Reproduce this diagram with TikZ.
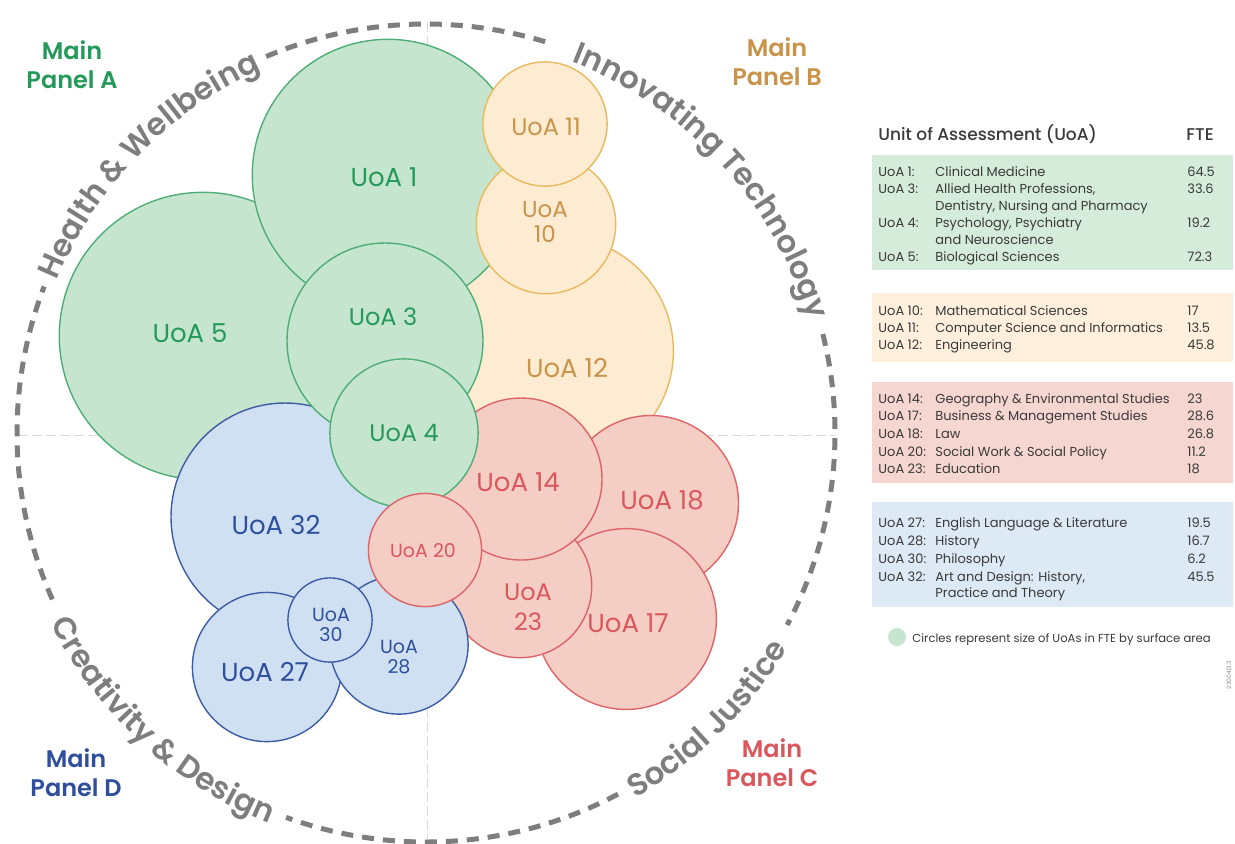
\documentclass[tikz,border=0pt]{standalone}
\usepackage{fontspec}
\setmainfont{Poppins}
\newfontfamily\medfont{Poppins Medium}
\newfontfamily\semifont{Poppins SemiBold}
\usetikzlibrary{decorations.text, positioning}

\definecolor{greenfill}{HTML}{C6E5CF}
\definecolor{greenline}{HTML}{4FAE76}
\definecolor{greentext}{HTML}{23995A}
\definecolor{yellowfill}{HTML}{FDEBD2}
\definecolor{yellowline}{HTML}{E9B95E}
\definecolor{yellowtext}{HTML}{C9944A}
\definecolor{redfill}{HTML}{F4CDC5}
\definecolor{redline}{HTML}{DD6468}
\definecolor{redtext}{HTML}{D9575D}
\definecolor{bluefill}{HTML}{CFE0F3}
\definecolor{blueline}{HTML}{3E5CA4}
\definecolor{bluetext}{HTML}{2F4F9C}
\definecolor{ringgrey}{HTML}{7E7E7E}
\definecolor{legendgrey}{HTML}{3A3A3A}
\definecolor{boxgreen}{HTML}{D5ECDB}
\definecolor{boxyellow}{HTML}{FEF0DD}
\definecolor{boxred}{HTML}{F6D6D0}
\definecolor{boxblue}{HTML}{DEE9F6}

\newcommand{\themefont}{\semifont\fontsize{15.5}{18}\selectfont}

\tikzset{
  unit/.style={circle, inner sep=0pt, outer sep=0pt, line width=0.7pt},
  panelA/.style={unit, fill=greenfill, draw=greenline},
  panelB/.style={unit, fill=yellowfill, draw=yellowline},
  panelC/.style={unit, fill=redfill, draw=redline},
  panelD/.style={unit, fill=bluefill, draw=blueline},
  unitlabel/.style={align=center, inner sep=0pt, font=\fontsize{13}{15}\selectfont},
  mainlabel/.style={align=center, inner sep=0pt, font=\semifont\fontsize{12}{14.5}\selectfont},
  ring/.style={draw=ringgrey, line width=2.5pt, dash pattern=on 6pt off 4.5pt},
  crossline/.style={draw=black!14, line width=0.5pt, dash pattern=on 5pt off 2pt},
  theme/.style={decorate, decoration={text along path, text align=center, text color=ringgrey}},
  legendtext/.style={anchor=mid west, inner sep=0pt, text=legendgrey, font=\fontsize{6.5}{8}\selectfont},
}

\begin{document}
\begin{tikzpicture}[x=0.5pt, y=0.5pt]
    \useasboundingbox (0,0) rectangle (1235,-843);
    \coordinate (o) at (426,-433);

    % quadrant guides
    \draw[crossline] (18,-435) -- (836,-435);
    \draw[crossline] (427,-22) -- (427,-843);

    % dashed ring between the theme names
    \draw[ring] (o) ++(113:409) arc[start angle=113, end angle=72, radius=409];
    \draw[ring] (o) ++(14:409) arc[start angle=14, end angle=-28, radius=409];
    \draw[ring] (o) ++(-62:409) arc[start angle=-62, end angle=-110, radius=409];
    \draw[ring] (o) ++(204:409) arc[start angle=204, end angle=159, radius=409];

    % theme names along the ring
    \path[theme, decoration={text={|\themefont|Health {\&} Wellbeing}}]
        (o) ++(171:399) arc[start angle=171, end angle=101, radius=399];
    \path[theme, decoration={text={|\themefont|Innovating Technology}}]
        (o) ++(79:399) arc[start angle=79, end angle=6, radius=399];
    \path[theme, decoration={text={|\themefont|Social Justice}}]
        (o) ++(-80:421) arc[start angle=-80, end angle=-11, radius=421];
    \path[theme, decoration={text={|\themefont|Creativity {\&} Design}}]
        (o) ++(192:421) arc[start angle=192, end angle=263, radius=421];

    % units of assessment, back to front
    \node[panelB, minimum size=114.4pt] (c12) at (559,-351) {};
    \node[panelA, minimum size=143.7pt] (c5) at (203,-336) {};
    \node[panelA, minimum size=135.7pt] (c1) at (388,-175) {};
    \node[panelB, minimum size=69.7pt] (c10) at (546,-224) {};
    \node[panelB, minimum size=62.1pt] (c11) at (545,-124) {};
    \node[panelC, minimum size=87.5pt] (c18) at (651,-503) {};
    \node[panelC, minimum size=90.4pt] (c17) at (626,-619) {};
    \node[panelC, minimum size=71.7pt] (c23) at (520,-586) {};
    \node[panelC, minimum size=81.0pt] (c14) at (521,-479) {};
    \node[panelD, minimum size=114.0pt] (c32) at (285,-517) {};
    \node[panelA, minimum size=98.0pt] (c3) at (385,-341) {};
    \node[panelD, minimum size=74.6pt] (c27) at (267,-667) {};
    \node[panelD, minimum size=69.1pt] (c28) at (399,-645) {};
    \node[panelD, minimum size=42.1pt] (c30) at (330,-620) {};
    \node[panelA, minimum size=74.1pt] (c4) at (404,-433) {};
    \node[panelC, minimum size=56.6pt] (c20) at (425,-550) {};

    % unit labels
    \node[unitlabel, text=greentext] (l1) at (384,-177) {UoA 1};
    \node[unitlabel, text=greentext] (l5) at (190,-333) {UoA 5};
    \node[unitlabel, text=greentext, font=\fontsize{12}{14}\selectfont] (l3) at (383,-317) {UoA 3};
    \node[unitlabel, text=greentext, font=\fontsize{12}{14}\selectfont] (l4) at (404,-433) {UoA 4};
    \node[unitlabel, text=yellowtext, font=\fontsize{12}{14}\selectfont] (l11) at (546,-127) {UoA 11};
    \node[unitlabel, text=yellowtext, font=\fontsize{11.5}{12.5}\selectfont] (l10) at (545,-222) {UoA\\10};
    \node[unitlabel, text=yellowtext] (l12) at (567,-368) {UoA 12};
    \node[unitlabel, text=redtext] (l14) at (518,-482) {UoA 14};
    \node[unitlabel, text=redtext] (l18) at (662,-500) {UoA 18};
    \node[unitlabel, text=redtext] (l17) at (628,-623) {UoA 17};
    \node[unitlabel, text=redtext, font=\fontsize{12}{15}\selectfont] (l23) at (528,-607) {UoA\\23};
    \node[unitlabel, text=redtext, font=\fontsize{9.5}{11}\selectfont] (l20) at (423,-551) {UoA 20};
    \node[unitlabel, text=bluetext] (l32) at (276,-525) {UoA 32};
    \node[unitlabel, text=bluetext] (l27) at (265,-672) {UoA 27};
    \node[unitlabel, text=bluetext, font=\fontsize{9.5}{10}\selectfont] (l30) at (331,-625) {UoA\\30};
    \node[unitlabel, text=bluetext, font=\fontsize{9.5}{10}\selectfont] (l28) at (399,-657) {UoA\\28};

    % main panels
    \node[mainlabel, text=greentext] (mpA) at (72,-65) {Main\\Panel A};
    \node[mainlabel, text=yellowtext] (mpB) at (777,-62) {Main\\Panel B};
    \node[mainlabel, text=redtext] (mpC) at (772,-763) {Main\\Panel C};
    \node[mainlabel, text=bluetext] (mpD) at (76,-773) {Main\\Panel D};

    % legend
    \node[legendtext, font=\medfont\fontsize{8.5}{10}\selectfont] (head) at (878,-135) {Unit of Assessment (UoA)};
    \node[legendtext, font=\medfont\fontsize{8.5}{10}\selectfont] (headfte) at (1186,-135) {FTE};
    \fill[boxgreen] (872,-155) rectangle (1233,-270);
    \fill[boxyellow] (872,-293) rectangle (1233,-362);
    \fill[boxred] (872,-382) rectangle (1233,-483);
    \fill[boxblue] (872,-502) rectangle (1233,-607);
    \foreach \y/\code/\desc/\fte in {
        171/UoA 1:/Clinical Medicine/64.5,
        188/UoA 3:/{Allied Health Professions,}/33.6,
        205//{Dentistry, Nursing and Pharmacy}/,
        222/UoA 4:/{Psychology, Psychiatry}/19.2,
        239//and Neuroscience/,
        256/UoA 5:/Biological Sciences/72.3,
        310/UoA 10:/Mathematical Sciences/17,
        327/UoA 11:/Computer Science and Informatics/13.5,
        344/UoA 12:/Engineering/45.8,
        398/UoA 14:/Geography \& Environmental Studies/23,
        415/UoA 17:/Business \& Management Studies/28.6,
        433/UoA 18:/Law/26.8,
        451/UoA 20:/Social Work \& Social Policy/11.2,
        468/UoA 23:/Education/18,
        522/UoA 27:/English Language \& Literature/19.5,
        540/UoA 28:/History/16.7,
        558/UoA 30:/Philosophy/6.2,
        576/UoA 32:/{Art and Design: History,}/45.5,
        592//Practice and Theory/}
    {
        \node[legendtext] (code\y) at (878,-\y) {\code};
        \node[legendtext] (desc\y) at (935,-\y) {\desc};
        \node[legendtext] (fte\y) at (1187,-\y) {\fte};
    }
    \node[unit, fill=greenfill, minimum size=9pt] (dot) at (897,-637) {};
    \node[legendtext, anchor=mid west, font=\fontsize{5.8}{7}\selectfont] (note) at ([xshift=3pt]dot.east) {Circles represent size of UoAs in FTE by surface area};
    \node[rotate=90, inner sep=0pt, text=black!45, font=\fontsize{3}{3}\selectfont] (ref) at (1229,-675) {23004|3.3};
\end{tikzpicture}
\end{document}
